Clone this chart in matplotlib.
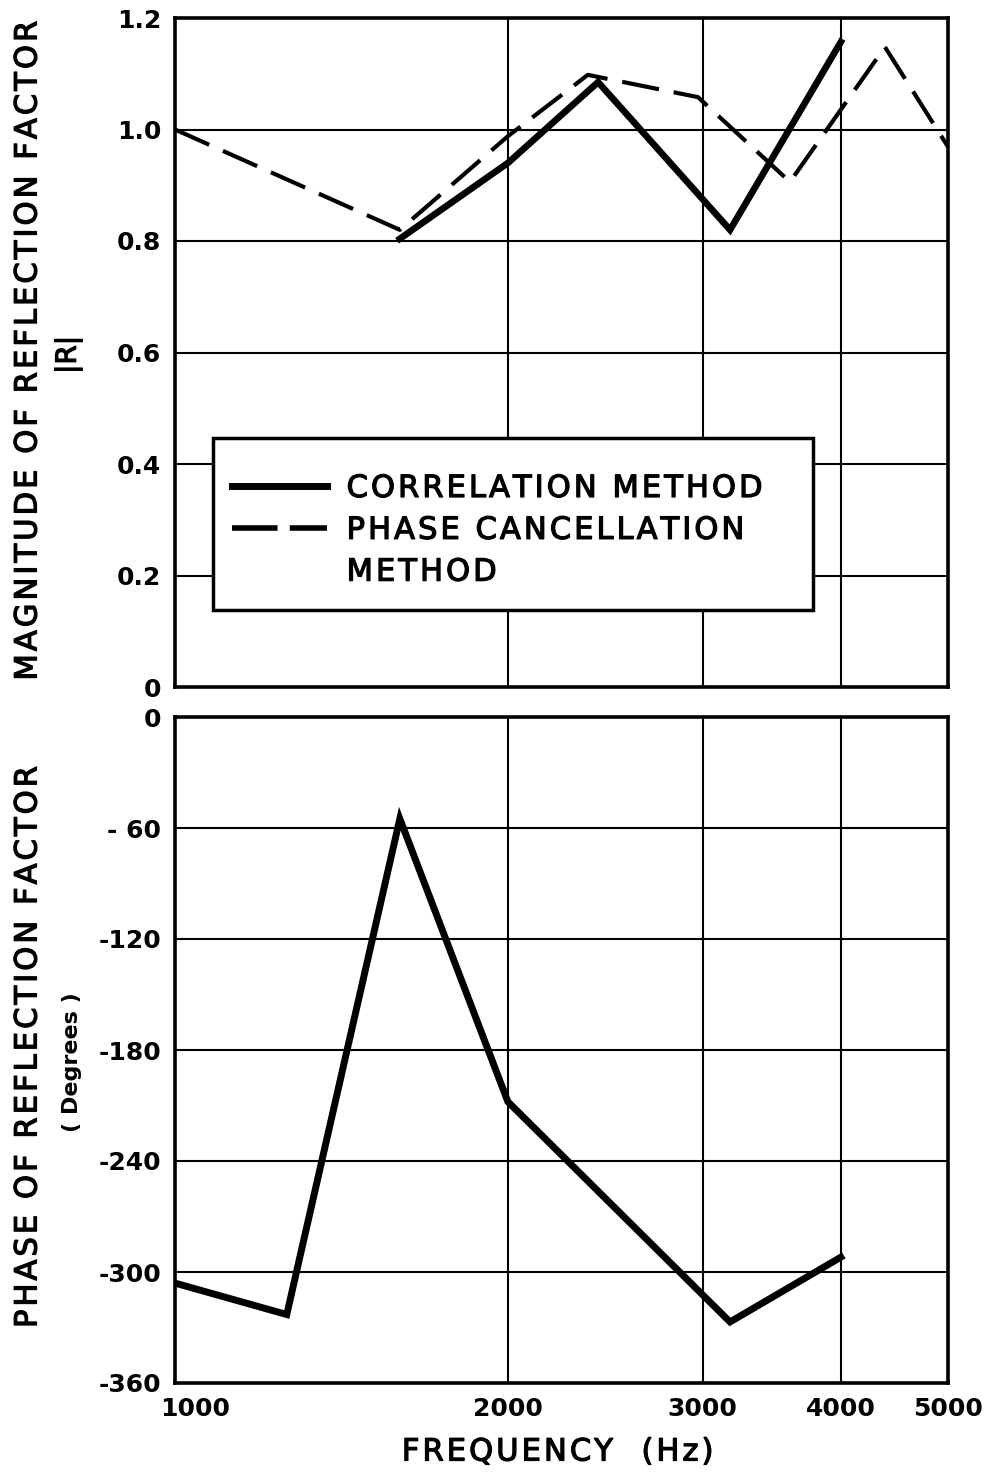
import numpy as np
import matplotlib
matplotlib.use("Agg")
import matplotlib.pyplot as plt
import matplotlib.transforms as mtransforms
import matplotlib.patheffects as pe
from matplotlib.lines import Line2D
from matplotlib.patches import Rectangle

# |R| vs frequency
f_corr_mag = [1597, 2000, 2413, 3176, 4000]
r_corr_mag = [0.804, 0.940, 1.085, 0.820, 1.157]
f_phase_mag = [1000, 1597, 2000, 2362, 2971, 3598, 4385, 5000]
r_phase_mag = [1.000, 0.820, 0.988, 1.098, 1.058, 0.906, 1.148, 0.969]

# phase vs frequency (correlation method only)
f_corr_ph = [1000, 1262, 1597, 2000, 3176, 4000]
p_corr_ph = [-306, -323, -55, -208, -327, -292]

xticks = [1000, 2000, 3000, 4000, 5000]
yticks_top = [0, 0.2, 0.4, 0.6, 0.8, 1.0, 1.2]
ylabels_top = ["0", "0.2", "0.4", "0.6", "0.8", "1.0", "1.2"]
yticks_bot = [0, -60, -120, -180, -240, -300, -360]
ylabels_bot = ["0", "- 60", "-120", "-180", "-240", "-300", "-360"]

plt.rcParams['font.family'] = ['DejaVu Sans']

W, H = 992, 1474
fig = plt.figure(figsize=(W / 100, H / 100), dpi=100)

# slightly heavier strokes for the typeset labels
heavy = [pe.withStroke(linewidth=0.9, foreground='black')]


def box(x0, y0, x1, y1):
    return [x0 / W, 1 - y1 / H, (x1 - x0) / W, (y1 - y0) / H]


def spaced(s):
    # wide letter spacing like the typeset original
    return '\u200a'.join(s)


ax1 = fig.add_axes(box(175, 18, 948, 687))
ax2 = fig.add_axes(box(175, 717, 948, 1383))

for ax in (ax1, ax2):
    ax.set_xscale('log')
    ax.set_xlim(1000, 5000)
    ax.set_xticks(xticks)
    ax.minorticks_off()
    ax.grid(True, color='black', linewidth=1.5)
    ax.set_axisbelow(True)
    for s in ax.spines.values():
        s.set_linewidth(2.6)
    ax.tick_params(length=0, pad=10, labelsize=18)

ax1.plot(f_corr_mag, r_corr_mag, color='black', linewidth=4.8,
         solid_joinstyle='miter')
ax1.plot(f_phase_mag, r_phase_mag, color='black', linewidth=3.0,
         dashes=(9, 3.6), dash_capstyle='butt')
ax1.set_ylim(0, 1.2)
ax1.set_yticks(yticks_top)
ax1.set_yticklabels(ylabels_top, fontweight='bold')
ax1.set_xticklabels([])

ax2.plot(f_corr_ph, p_corr_ph, color='black', linewidth=5.0,
         solid_joinstyle='miter')
ax2.set_ylim(-360, 0)
ax2.set_yticks(yticks_bot)
ax2.set_yticklabels(ylabels_bot, fontweight='bold')
ax2.set_xticklabels([str(v) for v in xticks], fontweight='bold')
# first frequency label sits a bit right of the axis corner
first = ax2.get_xticklabels()[0]
first.set_transform(first.get_transform() +
                    mtransforms.ScaledTranslation(0.2, 0, fig.dpi_scale_trans))

# legend: drawn frame + frameless figure legend
fig.patches.append(Rectangle((213 / W, 1 - 610 / H), 600 / W, 172 / H,
                             transform=fig.transFigure, facecolor='white',
                             edgecolor='black', linewidth=2.5, zorder=2))
handles = [Line2D([], [], color='black', linewidth=5.0),
           Line2D([], [], color='black', linewidth=4.0, dashes=(8.2, 2.2),
                  dash_capstyle='butt'),
           Line2D([], [], color='none')]
labels = [spaced('CORRELATION METHOD'), spaced('PHASE CANCELLATION'),
          spaced('METHOD')]
leg = fig.legend(handles, labels, loc='upper left',
                 bbox_to_anchor=(232 / W, 1 - 474 / H),
                 bbox_transform=fig.transFigure, fontsize=22, frameon=False,
                 handlelength=3.1, handletextpad=0.65, borderpad=0,
                 borderaxespad=0, labelspacing=0.42)
for t in leg.get_texts():
    t.set_path_effects(heavy)

t1 = fig.text(28 / W, 1 - 352 / H, spaced('MAGNITUDE OF REFLECTION FACTOR'),
              rotation=90, ha='center', va='center', fontsize=22)
t2 = fig.text(68 / W, 1 - 355 / H, '|R|', rotation=90, ha='center',
              va='center', fontsize=20)
t3 = fig.text(28 / W, 1 - 1048 / H, spaced('PHASE OF REFLECTION FACTOR'),
              rotation=90, ha='center', va='center', fontsize=22)
fig.text(72 / W, 1 - 1062 / H, '( Degrees )', rotation=90, ha='center',
         va='center', fontsize=16, fontweight='bold')
t4 = fig.text(557 / W, 1 - 1452 / H, spaced('FREQUENCY  (Hz)'), ha='center',
              va='center', fontsize=22)
for t in (t1, t2, t3, t4):
    t.set_path_effects(heavy)

fig.savefig('out.png', dpi=100)
